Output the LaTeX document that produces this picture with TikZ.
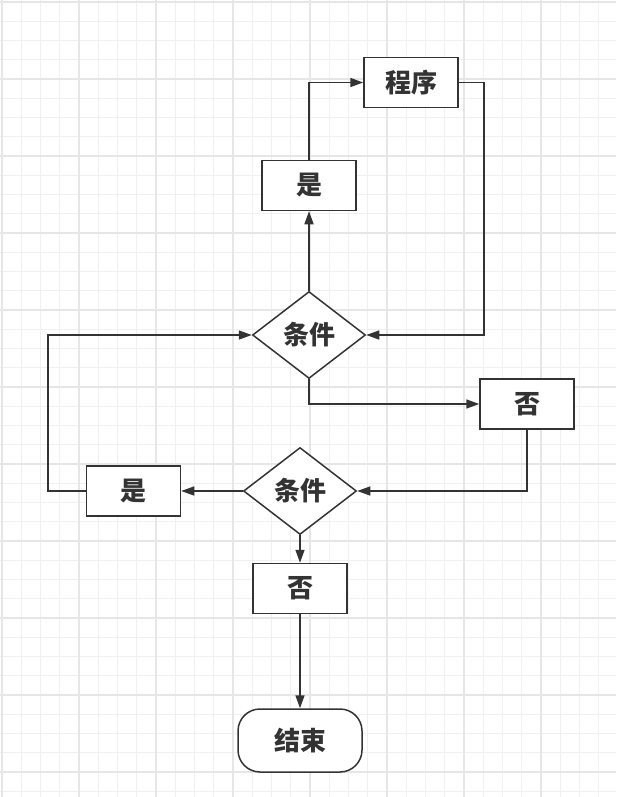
\documentclass[tikz,border=0pt]{standalone}
\usepackage{fontspec}
\newfontfamily\cjk{Noto Sans CJK SC}
\usetikzlibrary{shapes.geometric,arrows.meta}
\definecolor{lc}{HTML}{333333}
\definecolor{gminor}{HTML}{F0F0F0}
\definecolor{gmajor}{HTML}{E6E6E6}
\tikzset{
  lbl/.style={font=\cjk\bfseries\fontsize{26}{28}\selectfont, text=lc},
  boxnode/.style={lbl, draw=lc, line width=1.5pt, fill=white, rectangle, minimum width=94pt, minimum height=50pt, inner sep=0pt},
  dianode/.style={lbl, draw=lc, line width=1.5pt, fill=white, diamond, minimum width=113pt, minimum height=87pt, inner sep=0pt},
  termnode/.style={lbl, draw=lc, line width=1.5pt, fill=white, rectangle, rounded corners=22pt, minimum width=124pt, minimum height=63pt, inner sep=0pt},
  arr/.style={draw=lc, line width=1.5pt, -{Triangle[length=13pt,width=9pt]}}
}
\begin{document}
\begin{tikzpicture}[x=1pt,y=-1pt]
\useasboundingbox (0,0) rectangle (616,797);
\fill[white] (0,0) rectangle (616,797);
% grid
\foreach \i in {0,...,32} {
  \pgfmathsetmacro{\p}{2+19.25*\i}
  \draw[gminor, line width=1pt] (\p,0) -- (\p,797);
}
\foreach \i in {0,...,41} {
  \pgfmathsetmacro{\p}{2+19.25*\i}
  \draw[gminor, line width=1pt] (0,\p) -- (616,\p);
}
\foreach \i in {0,...,8} {
  \pgfmathsetmacro{\p}{2+77*\i}
  \draw[gmajor, line width=1.2pt] (\p,0) -- (\p,797);
}
\foreach \i in {0,...,10} {
  \pgfmathsetmacro{\p}{2+77*\i}
  \draw[gmajor, line width=1.2pt] (0,\p) -- (616,\p);
}
% nodes
\node[boxnode] (p) at (411,82.5) {程序};
\node[boxnode] (y1) at (309,185.5) {是};
\node[dianode] (d1) at (309,335) {条件};
\node[boxnode] (n1) at (527,404) {否};
\node[dianode] (d2) at (300,491) {条件};
\node[boxnode] (y2) at (133.5,491) {是};
\node[boxnode] (n2) at (300,588.5) {否};
\node[termnode] (e) at (300,740.5) {结束};
\coordinate (rt) at (484,82.5);
\coordinate (lt) at (48,491);
% connectors
\draw[arr] (d1.north) -- (y1.south);
\draw[arr] (y1.north) |- (p.west);
\draw[arr] (p.east) -- (rt) |- (d1.east);
\draw[arr] (d1.south) |- (n1.west);
\draw[arr] (n1.south) |- (d2.east);
\draw[arr] (d2.west) -- (y2.east);
\draw[arr] (y2.west) -- (lt) |- (d1.west);
\draw[arr] (d2.south) -- (n2.north);
\draw[arr] (n2.south) -- (e.north);
\end{tikzpicture}
\end{document}
